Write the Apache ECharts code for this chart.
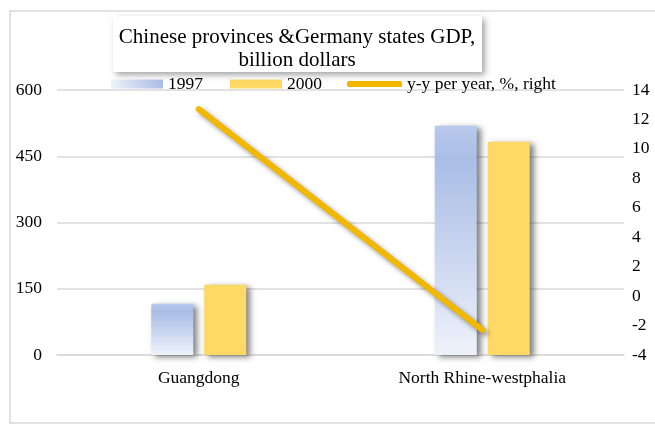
<!DOCTYPE html>
<html><head><meta charset="utf-8">
<script src="https://cdn.jsdelivr.net/npm/echarts@6/dist/echarts.min.js"></script>
<style>html,body{margin:0;padding:0;background:#fff}#c{width:655px;height:426px}</style>
</head><body><div id="c"></div>
<script>
var categories = ['Guangdong', 'North Rhine-westphalia'];
var gdp1997 = [116, 519];
var gdp2000 = [159, 483];
var yoy = [12.7, -2.3];
var seriesNames = ['1997', '2000', 'y-y per year, %, right'];
var titleText = 'Chinese provinces &Germany states GDP,\nbillion dollars';

var font = 'Liberation Serif, Times New Roman, serif';
var chart = echarts.init(document.getElementById('c'), null, {renderer: 'canvas'});
var legendText = {fontFamily: font, fontSize: 17.5, color: '#000'};
chart.setOption({
  animation: false,
  textStyle: {fontFamily: font},
  graphic: [
    {type: 'rect', shape: {x: 10, y: 11, width: 660, height: 412}, style: {fill: 'none', stroke: '#d9d9d9', lineWidth: 1.5}, z: -10},
    {type: 'rect', shape: {x: 113, y: 16, width: 369, height: 56}, style: {fill: '#fff', shadowBlur: 6, shadowColor: 'rgba(0,0,0,0.35)', shadowOffsetX: 3, shadowOffsetY: 3}, z: 5}
  ],
  title: {
    text: titleText, left: 292, top: 21, textAlign: 'center', z: 10,
    textStyle: {fontFamily: font, fontSize: 21, fontWeight: 'normal', color: '#000', lineHeight: 23}
  },
  legend: [{
    top: 75, left: 111, padding: 0, itemWidth: 52, itemHeight: 9, itemGap: 27,
    textStyle: legendText,
    data: [
      {name: seriesNames[0], icon: 'rect', itemStyle: {color: new echarts.graphic.LinearGradient(0, 0, 1, 0, [
        {offset: 0, color: '#eef2fa'}, {offset: 1, color: '#a9bde6'}])}},
      {name: seriesNames[1], icon: 'rect'}
    ]
  }, {
    top: 75, left: 347, padding: 0, itemWidth: 55, itemHeight: 6, itemGap: 30,
    textStyle: legendText,
    data: [{name: seriesNames[2], icon: 'roundRect'}]
  }],
  grid: {left: 57, right: 31, top: 90, bottom: 71},
  xAxis: {
    type: 'category', data: categories,
    axisLine: {lineStyle: {color: '#d9d9d9', width: 1.5}},
    axisTick: {show: false},
    axisLabel: {color: '#000', fontSize: 17.5, fontFamily: font, margin: 14}
  },
  yAxis: [
    {type: 'value', min: 0, max: 600, interval: 150,
     axisLine: {show: false}, axisTick: {show: false},
     axisLabel: {color: '#000', fontSize: 17.5, fontFamily: font, margin: 15},
     splitLine: {lineStyle: {color: '#d9d9d9', width: 1.5}}},
    {type: 'value', min: -4, max: 14, interval: 2,
     axisLine: {show: false}, axisTick: {show: false},
     axisLabel: {color: '#000', fontSize: 17.5, fontFamily: font, margin: 8},
     splitLine: {show: false}}
  ],
  series: [
    {name: seriesNames[0], type: 'bar', data: gdp1997, barWidth: 42, barGap: '26%',
     itemStyle: {
       color: new echarts.graphic.LinearGradient(0, 0, 0, 1, [
         {offset: 0, color: '#b9c9ec'}, {offset: 0.15, color: '#a9bde6'}, {offset: 1, color: '#eef2fa'}
       ]),
       shadowBlur: 6, shadowColor: 'rgba(0,0,0,0.5)', shadowOffsetX: 4, shadowOffsetY: 2
     }},
    {name: seriesNames[1], type: 'bar', data: gdp2000, barWidth: 42,
     itemStyle: {color: '#ffd966', shadowBlur: 6, shadowColor: 'rgba(0,0,0,0.5)', shadowOffsetX: 4, shadowOffsetY: 2}},
    {name: seriesNames[2], type: 'line', yAxisIndex: 1, data: yoy, symbol: 'none', z: 5,
     itemStyle: {color: '#f2b800'},
     lineStyle: {color: '#f2b800', width: 6, cap: 'round', shadowBlur: 5, shadowColor: 'rgba(0,0,0,0.4)', shadowOffsetX: 3, shadowOffsetY: 3}}
  ]
});
</script></body></html>
